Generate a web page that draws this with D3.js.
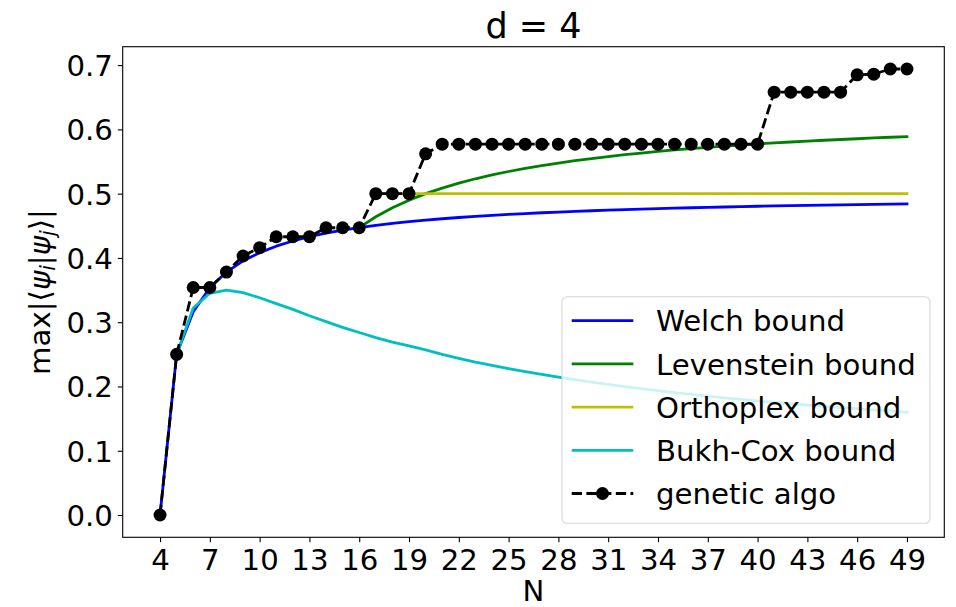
<!DOCTYPE html>
<html>
<head>
<meta charset="utf-8">
<script src="https://cdn.jsdelivr.net/npm/d3@7"></script>
<style>
  html, body { margin: 0; padding: 0; background: #fff; }
  svg { display: block; font-family: "DejaVu Sans", sans-serif; }
</style>
</head>
<body>
<svg id="chart" width="956" height="607"></svg>
<script>
// ---------- data ----------
const titleText = "d = 4";
const xTicks = [4, 7, 10, 13, 16, 19, 22, 25, 28, 31, 34, 37, 40, 43, 46, 49];
const yTicks = [0.0, 0.1, 0.2, 0.3, 0.4, 0.5, 0.6, 0.7];

const welchN = [4,5,6,7,8,9,10,11,12,13,14,15,16,17,18,19,20,21,22,23,24,25,26,27,28,29,30,31,32,33,34,35,36,37,38,39,40,41,42,43,44,45,46,47,48,49];
const welchV = [0,0.25,0.3162,0.3536,0.3780,0.3953,0.4082,0.4183,0.4264,0.4330,0.4385,0.4432,0.4472,0.4507,0.4537,0.4564,0.4588,0.4610,0.4629,0.4647,0.4663,0.4677,0.4690,0.4703,0.4714,0.4725,0.4734,0.4743,0.4752,0.4760,0.4767,0.4774,0.4781,0.4787,0.4793,0.4799,0.4804,0.4809,0.4814,0.4818,0.4822,0.4827,0.4830,0.4834,0.4838,0.4841];

const levN = [16,17,18,19,20,21,22,23,24,25,26,27,28,29,30,31,32,33,34,35,36,37,38,39,40,41,42,43,44,45,46,47,48,49];
const levV = [0.4472,0.4641,0.4781,0.4899,0.5,0.5087,0.5164,0.5232,0.5292,0.5345,0.5394,0.5437,0.5477,0.5514,0.5547,0.5578,0.5606,0.5632,0.5657,0.5680,0.5701,0.5721,0.5739,0.5757,0.5774,0.5789,0.5804,0.5818,0.5831,0.5843,0.5855,0.5867,0.5878,0.5888];

const orthoN = [17,18,19,20,21,22,23,24,25,26,27,28,29,30,31,32,33,34,35,36,37,38,39,40,41,42,43,44,45,46,47,48,49];
const orthoV = [0.5,0.5,0.5,0.5,0.5,0.5,0.5,0.5,0.5,0.5,0.5,0.5,0.5,0.5,0.5,0.5,0.5,0.5,0.5,0.5,0.5,0.5,0.5,0.5,0.5,0.5,0.5,0.5,0.5,0.5,0.5,0.5,0.5];

const bukhN = [5,6,7,8,9,10,11,12,13,14,15,16,17,18,19,20,21,22,23,24,25,26,27,28,29,30,31,32,33,34,35,36,37,38,39,40,41,42,43,44,45,46,47,48,49];
const bukhV = [0.250,0.322,0.345,0.350,0.346,0.338,0.329,0.320,0.310,0.301,0.292,0.284,0.276,0.269,0.263,0.257,0.2498,0.2437,0.2379,0.2328,0.2278,0.2232,0.2189,0.2147,0.2108,0.2069,0.2032,0.1997,0.1965,0.1934,0.1904,0.1876,0.1849,0.1823,0.1799,0.1775,0.1752,0.1731,0.1710,0.1690,0.1671,0.1653,0.1635,0.1618,0.1600];

const genN = [4,5,6,7,8,9,10,11,12,13,14,15,16,17,18,19,20,21,22,23,24,25,26,27,28,29,30,31,32,33,34,35,36,37,38,39,40,41,42,43,44,45,46,47,48,49];
const genV = [0,0.25,0.354,0.354,0.378,0.403,0.416,0.433,0.433,0.433,0.447,0.447,0.447,0.5,0.5,0.5,0.562,0.577,0.577,0.577,0.577,0.577,0.577,0.577,0.577,0.577,0.577,0.577,0.577,0.577,0.577,0.577,0.577,0.577,0.577,0.577,0.577,0.658,0.658,0.658,0.658,0.658,0.685,0.686,0.694,0.694];

const seriesNames = ["Welch bound", "Levenstein bound", "Orthoplex bound", "Bukh-Cox bound", "genetic algo"];
const seriesColors = ["#0000ff", "#008000", "#bfbf00", "#00bfbf", "#000000"];

// ---------- layout ----------
const FS = 29.2;      // base font size
const FS_TITLE = 35;  // title font size
const svg = d3.select("#chart");
const plot = { left: 122.7, right: 944.3, top: 46.7, bottom: 537.3 };

const allN = welchN.concat(levN, orthoN, bukhN, genN);
const allV = welchV.concat(levV, orthoV, bukhV, genV);
const [nMin, nMax] = d3.extent(allN);
const [vMin, vMax] = d3.extent(allV);
const nPad = (nMax - nMin) * 0.05, vPad = (vMax - vMin) * 0.05;

const x = d3.scaleLinear().domain([nMin - nPad, nMax + nPad]).range([plot.left, plot.right]);
const y = d3.scaleLinear().domain([vMin - vPad, vMax + vPad]).range([plot.bottom, plot.top]);

svg.append("defs").append("clipPath").attr("id", "clip")
  .append("rect").attr("x", plot.left).attr("y", plot.top)
  .attr("width", plot.right - plot.left).attr("height", plot.bottom - plot.top);

const line = d3.line().x(d => x(d[0])).y(d => y(d[1]));
const zip = (a, b) => a.map((v, i) => [v, b[i]]);

const g = svg.append("g").attr("clip-path", "url(#clip)");
const LW = 2.8;
[[welchN, welchV], [levN, levV], [orthoN, orthoV], [bukhN, bukhV]].forEach((s, i) => {
  g.append("path").datum(zip(s[0], s[1])).attr("d", line)
    .attr("fill", "none").attr("stroke", seriesColors[i]).attr("stroke-width", LW)
    .attr("stroke-linejoin", "round").attr("stroke-linecap", "square");
});
const genData = zip(genN, genV);
g.append("path").datum(genData).attr("d", line)
  .attr("fill", "none").attr("stroke", "#000").attr("stroke-width", LW)
  .attr("stroke-dasharray", "10.3,4.4");
g.selectAll("circle.gen").data(genData).enter().append("circle")
  .attr("class", "gen").attr("cx", d => x(d[0])).attr("cy", d => y(d[1]))
  .attr("r", 6.5).attr("fill", "#000");

// ---------- axes ----------
const xAxis = d3.axisBottom(x).tickValues(xTicks).tickSize(4.9).tickPadding(7).tickFormat(d3.format("d"));
const yAxis = d3.axisLeft(y).tickValues(yTicks).tickSize(4.9).tickPadding(5).tickFormat(d3.format(".1f"));

const gx = svg.append("g").attr("transform", `translate(0,${plot.bottom})`).call(xAxis);
const gy = svg.append("g").attr("transform", `translate(${plot.left},0)`).call(yAxis);
[gx, gy].forEach(a => {
  a.select(".domain").remove();
  a.selectAll("line").attr("stroke", "#000").attr("stroke-width", 1.1);
  a.selectAll("text").attr("font-family", "DejaVu Sans").attr("font-size", FS).attr("fill", "#000");
});
gx.selectAll("text").attr("dy", null).attr("y", 33);
gy.selectAll("text").attr("dy", null).attr("y", 10.5);

svg.append("rect").attr("x", plot.left).attr("y", plot.top)
  .attr("width", plot.right - plot.left).attr("height", plot.bottom - plot.top)
  .attr("fill", "none").attr("stroke", "#000").attr("stroke-width", 1.1);

// ---------- labels ----------
svg.append("text").attr("x", (plot.left + plot.right) / 2).attr("y", 38.3)
  .attr("text-anchor", "middle").attr("font-size", FS_TITLE).text(titleText);
svg.append("text").attr("x", (plot.left + plot.right) / 2).attr("y", 601)
  .attr("text-anchor", "middle").attr("font-size", FS).text("N");

const yl = svg.append("text")
  .attr("transform", `translate(50,${(plot.top + plot.bottom) / 2}) rotate(-90)`)
  .attr("text-anchor", "middle").attr("font-size", FS);
yl.append("tspan").text("max|⟨");
yl.append("tspan").attr("font-style", "italic").text("ψ");
yl.append("tspan").attr("font-style", "italic").attr("font-size", 20.5).attr("dy", 5).text("i");
yl.append("tspan").attr("dy", -5).text("|");
yl.append("tspan").attr("font-style", "italic").text("ψ");
yl.append("tspan").attr("font-style", "italic").attr("font-size", 20.5).attr("dy", 5).text("j");
yl.append("tspan").attr("dy", -5).text("⟩|");

// ---------- legend ----------
const leg = svg.append("g");
leg.append("rect").attr("x", 562).attr("y", 296.7).attr("width", 368).attr("height", 226.6)
  .attr("rx", 5).attr("fill", "#fff").attr("fill-opacity", 0.8)
  .attr("stroke", "#d6d6d6").attr("stroke-width", 1.1);
const rowY = d3.scaleLinear().domain([0, 4]).range([320.7, 493.5]);
seriesNames.forEach((name, i) => {
  const yy = rowY(i);
  const l = leg.append("line").attr("x1", 571.7).attr("x2", 633.3).attr("y1", yy).attr("y2", yy)
    .attr("stroke", seriesColors[i]).attr("stroke-width", LW);
  if (i === 4) {
    l.attr("stroke-dasharray", "10.3,4.4");
    leg.append("circle").attr("cx", (571.7 + 633.3) / 2).attr("cy", yy).attr("r", 6.5).attr("fill", "#000");
  }
  leg.append("text").attr("x", 656).attr("y", yy + 10.6).attr("font-size", FS).attr("fill", "#000").text(name);
});
</script>
</body>
</html>
